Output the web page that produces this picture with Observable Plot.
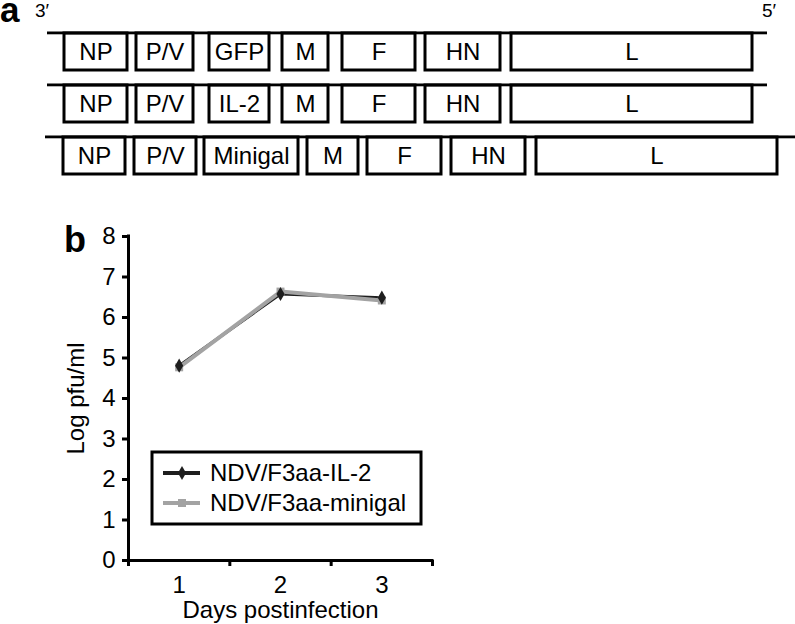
<!DOCTYPE html>
<html>
<head>
<meta charset="utf-8">
<script src="https://cdn.jsdelivr.net/npm/d3@7"></script>
<script src="https://cdn.jsdelivr.net/npm/@observablehq/plot@0.6"></script>
<style>
  html, body { margin: 0; padding: 0; background: #fff; }
  #wrap { position: relative; width: 795px; height: 624px; overflow: hidden; background: #fff; }
  #panelA, #panelB { position: absolute; left: 0; }
  #panelA { top: 0; }
  #panelB { top: 190px; }
</style>
</head>
<body>
<div id="wrap">
  <div id="panelA"></div>
  <div id="panelB"></div>
</div>
<script>
// ---------- Panel a: genome maps (positions in map units) ----------
const rowNames = ["GFP", "IL-2", "Minigal"];
const genesGFP = ["NP", "P/V", "GFP", "M", "F", "HN", "L"];
const genesIL2 = ["NP", "P/V", "IL-2", "M", "F", "HN", "L"];
const genesMinigal = ["NP", "P/V", "Minigal", "M", "F", "HN", "L"];
const startGFP = [64, 136, 209, 282, 342, 425, 511];
const endGFP   = [127, 193, 269, 328, 415, 500, 752];
const startIL2 = [64, 136, 209, 282, 342, 425, 511];
const endIL2   = [127, 193, 269, 328, 415, 500, 752];
const startMinigal = [63, 134, 204, 307, 367, 451, 536];
const endMinigal   = [125, 196, 298, 358, 441, 525, 777];
const backboneStart = [47, 47, 45];
const backboneEnd   = [767, 767, 795];
const endLabels = ["3\u2032", "5\u2032"];

// ---------- Panel b: growth curves ----------
const days = [1, 2, 3];
const il2Values = [4.81, 6.58, 6.49];
const minigalValues = [4.77, 6.64, 6.42];
const seriesNames = ["NDV/F3aa-IL-2", "NDV/F3aa-minigal"];
const seriesColors = ["#1e1e1e", "#a3a3a3"];
const yTicks = [0, 1, 2, 3, 4, 5, 6, 7, 8];
const xTicks = [1, 2, 3];

const FONT = "'Liberation Sans', Arial, Helvetica, sans-serif";

// build tables
const geneTable = [];
[[genesGFP, startGFP, endGFP], [genesIL2, startIL2, endIL2], [genesMinigal, startMinigal, endMinigal]]
  .forEach(([g, s, e], i) => g.forEach((name, j) => geneTable.push({row: rowNames[i], gene: name, start: s[j], end: e[j]})));
const backboneTable = rowNames.map((r, i) => ({row: r, start: backboneStart[i], end: backboneEnd[i]}));

const bandInner = 0.29;
const yRange = [32, 174];
const bw = (yRange[1] - yRange[0]) / (rowNames.length - bandInner) * (1 - bandInner);

const plotA = Plot.plot({
  width: 795,
  height: 190,
  margin: 0,
  style: {fontFamily: FONT, background: "transparent", color: "black", overflow: "visible"},
  x: {domain: [0, 795], range: [0, 795], axis: null},
  y: {type: "band", domain: rowNames, range: yRange, paddingInner: bandInner, paddingOuter: 0, axis: null},
  marks: [
    Plot.barX(geneTable, {x1: "start", x2: "end", y: "row", fill: "white", stroke: "black", strokeWidth: 3}),
    Plot.barX(backboneTable, {x1: "start", x2: "end", y: "row", fill: "black", insetTop: -1.5, insetBottom: bw - 1.5}),
    Plot.text(geneTable, {x: d => (d.start + d.end) / 2, y: "row", text: "gene", fontSize: 24, fill: "black"})
  ]
});
document.getElementById("panelA").appendChild(plotA);
{
  const svg = d3.select(plotA.tagName.toLowerCase() === "svg" ? plotA : plotA.querySelector("svg"));
  const g = svg.append("g").attr("text-anchor", "start").attr("font-family", FONT).attr("fill", "black");
  g.append("text").attr("x", 0).attr("y", 22).attr("font-size", 35).attr("font-weight", "bold").text("a");
  g.append("text").attr("x", 35).attr("y", 17).attr("font-size", 19).text(endLabels[0]);
  g.append("text").attr("x", 762).attr("y", 17).attr("font-size", 19).text(endLabels[1]);
}

// ---------- Panel b ----------
const il2Data = days.map((d, i) => ({day: d, value: il2Values[i]}));
const minigalData = days.map((d, i) => ({day: d, value: minigalValues[i]}));
const boundaries = xTicks.map(d => d - 0.5).concat([xTicks[xTicks.length - 1] + 0.5]);

const plotB = Plot.plot({
  width: 795,
  height: 434,
  marginLeft: 128,
  marginRight: 363,
  marginTop: 46,
  marginBottom: 64,
  style: {fontFamily: FONT, background: "transparent", color: "black", overflow: "visible"},
  x: {domain: [boundaries[0], boundaries[boundaries.length - 1]], label: null},
  y: {domain: [0, 8], label: null},
  marks: [
    Plot.axisY({ticks: yTicks, tickSize: 6, tickPadding: 7, fontSize: 24, strokeWidth: 3, label: null, tickFormat: d3.format("d")}),
    Plot.axisX({ticks: xTicks, tickSize: 0, tickPadding: 15, fontSize: 24, label: null, tickFormat: d3.format("d")}),
    Plot.axisX({ticks: boundaries, tickSize: 6, tickFormat: () => "", strokeWidth: 3, label: null}),
    Plot.ruleX([boundaries[0]], {strokeWidth: 3, strokeLinecap: "square"}),
    Plot.ruleY([0], {strokeWidth: 3, strokeLinecap: "square"}),
    Plot.text(["Days postinfection"], {frameAnchor: "bottom", dy: 50, lineAnchor: "middle", textAnchor: "middle", fontSize: 24, fill: "black"}),
    Plot.text(["Log pfu/ml"], {frameAnchor: "left", rotate: -90, dx: -52, lineAnchor: "middle", textAnchor: "middle", fontSize: 24, fill: "black"}),
    Plot.line(il2Data, {x: "day", y: "value", stroke: seriesColors[0], strokeWidth: 3}),
    Plot.line(minigalData, {x: "day", y: "value", stroke: seriesColors[1], strokeWidth: 4}),
    Plot.dot(minigalData, {x: "day", y: "value", symbol: "square", r: 4.5, fill: seriesColors[1], stroke: "none"}),
    Plot.dot(il2Data, {x: "day", y: "value", symbol: "diamond", r: 4.3, fill: seriesColors[0], stroke: "none"})
  ]
});
document.getElementById("panelB").appendChild(plotB);
{
  const svg = d3.select(plotB.tagName.toLowerCase() === "svg" ? plotB : plotB.querySelector("svg"));
  svg.append("text").attr("x", 64).attr("y", 62).attr("font-size", 36).attr("font-weight", "bold")
     .attr("text-anchor", "start").attr("font-family", FONT).attr("fill", "black").text("b");
  // legend
  const lg = svg.append("g").attr("font-family", FONT).attr("font-size", 24).attr("text-anchor", "start");
  lg.append("rect").attr("x", 152).attr("y", 262).attr("width", 269).attr("height", 72)
    .attr("fill", "white").attr("stroke", "black").attr("stroke-width", 3);
  const rowsY = [283, 313];
  seriesNames.forEach((name, i) => {
    const y = rowsY[i];
    lg.append("line").attr("x1", 163).attr("x2", 200).attr("y1", y).attr("y2", y)
      .attr("stroke", seriesColors[i]).attr("stroke-width", 4);
    const sym = i === 0 ? d3.symbol(d3.symbolDiamond, 58) : d3.symbol(d3.symbolSquare, 64);
    lg.append("path").attr("d", sym()).attr("transform", `translate(182,${y})`).attr("fill", seriesColors[i]);
    lg.append("text").attr("x", 210).attr("y", y).attr("dy", "0.35em").attr("fill", "black").text(name);
  });
}
</script>
</body>
</html>
